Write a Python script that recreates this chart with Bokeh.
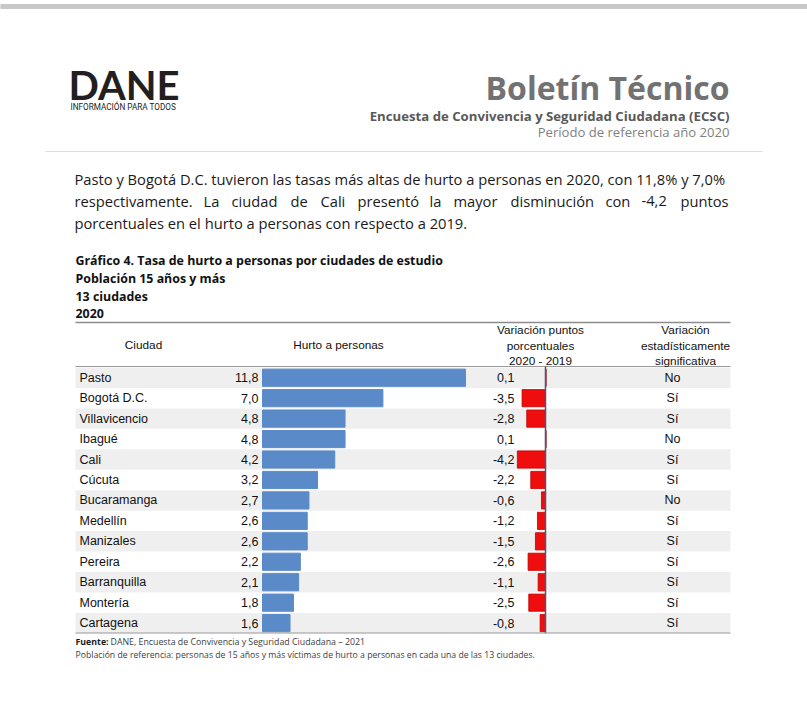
from bokeh.plotting import figure
from bokeh.models import Range1d, Label, ColumnDataSource
from bokeh.core.properties import value
from bokeh.embed import file_html
from bokeh.resources import INLINE

# ---------------- data ----------------
ciudades = ["Pasto", "Bogotá D.C.", "Villavicencio", "Ibagué", "Cali", "Cúcuta",
            "Bucaramanga", "Medellín", "Manizales", "Pereira", "Barranquilla",
            "Montería", "Cartagena"]
hurto = [11.8, 7.0, 4.8, 4.8, 4.2, 3.2, 2.7, 2.6, 2.6, 2.2, 2.1, 1.8, 1.6]
variacion = [0.1, -3.5, -2.8, 0.1, -4.2, -2.2, -0.6, -1.2, -1.5, -2.6, -1.1, -2.5, -0.8]
significativa = ["No", "Sí", "Sí", "No", "Sí", "Sí", "No", "Sí", "Sí", "Sí", "Sí", "Sí", "Sí"]

titulo = "Boletín Técnico"
subtitulo = "Encuesta de Convivencia y Seguridad Ciudadana (ECSC)"
periodo = "Período de referencia año 2020"
parrafo1 = "Pasto y Bogotá D.C. tuvieron las tasas más altas de hurto a personas en 2020, con 11,8% y 7,0%"
parrafo2 = ["respectivamente.", "La", "ciudad", "de", "Cali", "presentó", "la", "mayor",
            "disminución", "con", "-4,2", "puntos"]
parrafo3 = "porcentuales en el hurto a personas con respecto a 2019."
grafico = ["Gráfico 4. Tasa de hurto a personas por ciudades de estudio",
           "Población 15 años y más", "13 ciudades", "2020"]
fuente_b = "Fuente:"
fuente = "DANE, Encuesta de Convivencia y Seguridad Ciudadana – 2021"
nota = "Población de referencia: personas de 15 años y más víctimas de hurto a personas en cada una de las 13 ciudades."

# ---------------- layout constants ----------------
W, H = 807, 705
ROW_TOP, ROW_H = 367.0, 20.45
TL, TR = 75, 730
HX0, HPX = 262.0, 17.2
VX0, VPX = 545.0, 6.7

p = figure(width=W, height=H, x_range=Range1d(0, W), y_range=Range1d(H, 0),
           output_backend="svg", toolbar_location=None,
           x_axis_location=None, y_axis_location=None, min_border=0)
p.outline_line_color = None
p.grid.visible = False
p.background_fill_color = "white"
p.border_fill_color = "white"

p.extra_x_ranges = {
    "hurto": Range1d(-HX0 / HPX, (W - HX0) / HPX),
    "var": Range1d(-VX0 / VPX, (W - VX0) / VPX),
}
p.extra_y_ranges = {"rows": Range1d((H - ROW_TOP) / ROW_H - 0.5, -ROW_TOP / ROW_H - 0.5)}

OS = "Open Sans"
AR = "Liberation Sans"


def lab(x, y, s, size, font=OS, style="normal", color="#1a1a1a", align="left", base="middle"):
    p.add_layout(Label(x=x, y=y, text=s, text_font=font, text_font_size=f"{size}px",
                       text_font_style=style, text_color=color, text_align=align,
                       text_baseline=base))


# ---------------- page decoration ----------------
p.quad(left=0, right=W, top=4, bottom=8, color="#c8c8c8")
lab(68, 84, "DANE", 40, font="Lato", style="bold", color="#231f20")
lab(70, 106, "INFORMACIÓN PARA TODOS", 8.2, font="Roboto", color="#231f20")
lab(729, 87, titulo, 32, style="bold", color="#727272", align="right")
lab(729, 115, subtitulo, 13.2, style="bold", color="#595959", align="right")
lab(729, 131, periodo, 13.1, color="#7f7f7f", align="right")
p.segment(x0=45, x1=762, y0=151, y1=151, line_color="#dcdcdc", line_width=1)

# paragraph
FS = 14.7
lab(74, 178, parrafo1, FS)
starts = [74, 203, 231, 290, 320, 357, 429, 453, 510, 605, 641]
for wd, xs in zip(parrafo2[:-1], starts):
    lab(xs, 200, wd, FS)
lab(728, 200, parrafo2[-1], FS, align="right")
lab(74, 222, parrafo3, FS)

# chart titles
for t, yy in zip(grafico, [260, 278, 296, 313]):
    lab(75, yy, t, 12.4, style="bold", color="#111111")

# ---------------- table ----------------
n = len(ciudades)
idx = list(range(n))
src = ColumnDataSource(dict(
    idx=idx, ciudad=ciudades, hurto=hurto, variacion=variacion, sig=significativa,
    hlab=[f"{v:.1f}".replace(".", ",") for v in hurto],
    vlab=[f"{v:.1f}".replace(".", ",") for v in variacion],
))

# stripes
p.hbar(y=[i for i in idx if i % 2 == 0], left=TL, right=TR, height=1.0,
       y_range_name="rows", fill_color="#eeefee", line_color=None)

# header
p.segment(x0=TL, x1=TR, y0=322, y1=322, line_color="#8c8c8c", line_width=1.5)
p.segment(x0=TL, x1=TR, y0=366, y1=366, line_color="#9a9a9a", line_width=1.2)
lab(143, 344, "Ciudad", 11.8, font=AR, color="#111111", align="center")
lab(338, 344, "Hurto a personas", 11.8, font=AR, color="#111111", align="center")
for t, yy in zip(["Variación puntos", "porcentuales", "2020 - 2019"], [329, 345, 360]):
    lab(540, yy, t, 11.8, font=AR, color="#111111", align="center")
for t, yy in zip(["Variación", "estadísticamente", "significativa"], [329, 345, 360]):
    lab(685, yy, t, 11.8, font=AR, color="#111111", align="center")

# blue bars
p.hbar(y="idx", left=0, right="hurto", height=0.84, source=src,
       x_range_name="hurto", y_range_name="rows",
       fill_color="#5b8ac9", line_color="#5b8ac9")
# red bars
p.hbar(y="idx", left=0, right="variacion", height=0.84, source=src,
       x_range_name="var", y_range_name="rows",
       fill_color="#f00d0d", line_color="#c00000", line_width=0.8)
# zero line
p.segment(x0=0, x1=0, y0=-0.55, y1=n - 0.5, x_range_name="var", y_range_name="rows",
          line_color="#3d5a84", line_width=1.5)

txt_kw = dict(source=src, y="idx", y_range_name="rows", text_baseline="middle",
              text_font=value(AR), text_font_size="12.5px", text_color="#111111")
p.text(x=TL + 4, text="ciudad", text_align="left", **txt_kw)
p.text(x=0, text="hlab", x_range_name="hurto", x_offset=-4, text_align="right", **txt_kw)
p.text(x=514, text="vlab", text_align="right", **txt_kw)
p.text(x=672, text="sig", text_align="center", **txt_kw)

p.segment(x0=TL, x1=TR, y0=632.5, y1=632.5, line_color="#9a9a9a", line_width=1.2)

# footer
lab(75, 641, fuente_b, 8.8, style="bold", color="#1a1a1a")
lab(110, 641, fuente, 8.8, color="#404040")
lab(75, 654, nota, 8.7, color="#404040")

open("out.html", "w").write(file_html(p, INLINE))
